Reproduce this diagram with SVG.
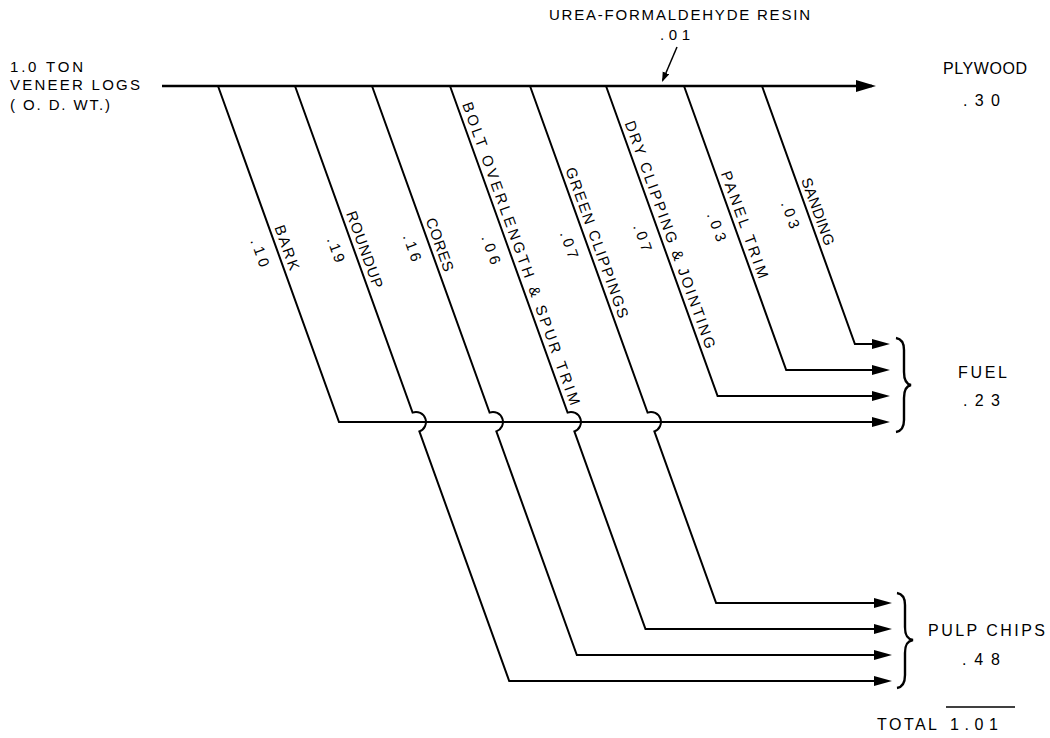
<svg xmlns="http://www.w3.org/2000/svg" width="1050" height="738" viewBox="0 0 1050 738">
<style>
.ln{fill:none;stroke:#000;stroke-width:2;stroke-linejoin:miter}
.main{stroke-width:2.6}
.br{fill:none;stroke:#000;stroke-width:2.4}
text{font-family:"Liberation Sans",Arial,sans-serif;font-size:15px;fill:#000}
.r{font-size:16px}
</style>
<defs>
<marker id="ah" markerUnits="userSpaceOnUse" markerWidth="20" markerHeight="12" refX="14" refY="5" orient="auto"><path d="M0,0 L18,5 L0,10 z" fill="#000"/></marker>
<marker id="ahm" markerUnits="userSpaceOnUse" markerWidth="22" markerHeight="14" refX="16" refY="6" orient="auto"><path d="M0,0 L20,6 L0,12 z" fill="#000"/></marker>
<marker id="ahs" markerUnits="userSpaceOnUse" markerWidth="12" markerHeight="8" refX="8" refY="3.5" orient="auto"><path d="M0,0 L10,3.5 L0,7 z" fill="#000"/></marker>
</defs>
<rect width="1050" height="738" fill="#fff"/>

<g id="connectors">
<path class="ln main" d="M162,86 L872,86" marker-end="url(#ahm)"/>
<path class="ln" style="stroke-width:1.5" d="M677,47 L662.8,80.2" marker-end="url(#ahs)"/>
<path class="ln" d="M218,86 L339,422 L886,422" marker-end="url(#ah)"/>
<path class="ln" d="M606,86 L717.6,396 L886,396" marker-end="url(#ah)"/>
<path class="ln" d="M684,86 L786.2,370 L886,370" marker-end="url(#ah)"/>
<path class="ln" d="M762,86 L854.9,344 L886,344" marker-end="url(#ah)"/>
<path class="ln" d="M295,86 L412.57,412.59 A10,10 0 0 1 419.35,431.41 L509.2,681 L888,681" marker-end="url(#ah)"/>
<path class="ln" d="M372,86 L489.57,412.59 A10,10 0 0 1 496.35,431.41 L576.84,655 L888,655" marker-end="url(#ah)"/>
<path class="ln" d="M450,86 L567.57,412.59 A10,10 0 0 1 574.35,431.41 L645.48,629 L888,629" marker-end="url(#ah)"/>
<path class="ln" d="M530,86 L647.57,412.59 A10,10 0 0 1 654.35,431.41 L716.12,603 L888,603" marker-end="url(#ah)"/>
</g>

<g id="input">
<text x="10" y="72" textLength="73" lengthAdjust="spacing">1.0 TON</text>
<text x="10" y="90" textLength="130" lengthAdjust="spacing">VENEER LOGS</text>
<text x="10" y="110" textLength="100" lengthAdjust="spacing">( O. D. WT.)</text>
</g>

<g id="resin">
<text x="549" y="20" textLength="261" lengthAdjust="spacing">UREA-FORMALDEHYDE RESIN</text>
<text x="660" y="40" textLength="30" lengthAdjust="spacing">.01</text>
</g>

<g id="plywood">
<text class="r" x="943" y="74" textLength="84" lengthAdjust="spacing">PLYWOOD</text>
<text class="r" x="963" y="106" textLength="37" lengthAdjust="spacing">.30</text>
</g>

<g id="fuel">
<path class="br" d="M896,338 C902,339 904,343 904,350 L904,372 C904,380 906,384 911,385 C906,386 904,390 904,398 L904,420 C904,427 902,431 896,432"/>
<text class="r" x="958" y="378" textLength="49" lengthAdjust="spacing">FUEL</text>
<text class="r" x="963" y="406" textLength="37" lengthAdjust="spacing">.23</text>
</g>

<g id="pulp-chips">
<path class="br" d="M897,593 C903,594 905,598 905,605 L905,627 C905,635 907,639 913,640 C907,641 905,645 905,653 L905,675 C905,682 903,687 897,688"/>
<text class="r" x="928" y="636" textLength="117" lengthAdjust="spacing">PULP CHIPS</text>
<text class="r" x="962" y="665" textLength="38" lengthAdjust="spacing">.48</text>
</g>

<g id="total">
<line x1="946" y1="707" x2="1015" y2="707" stroke="#000" stroke-width="1.3"/>
<text class="r" x="877" y="730" textLength="60" lengthAdjust="spacing">TOTAL</text>
<text class="r" x="950" y="730" textLength="48" lengthAdjust="spacing">1.01</text>
</g>

<g id="bark" transform="translate(277.4,251) rotate(70.2)">
<text x="0" y="-5" text-anchor="middle" textLength="47" lengthAdjust="spacing">BARK</text>
<text x="-4.3" y="22" text-anchor="middle" textLength="29" lengthAdjust="spacing">.10</text>
</g>
<g id="roundup" transform="translate(355.1,253) rotate(70.2)">
<text x="0" y="-5" text-anchor="middle" textLength="81" lengthAdjust="spacing">ROUNDUP</text>
<text x="-9.6" y="22" text-anchor="middle" textLength="26" lengthAdjust="spacing">.19</text>
</g>
<g id="cores" transform="translate(430.3,248) rotate(70.2)">
<text x="0" y="-5" text-anchor="middle" textLength="56" lengthAdjust="spacing">CORES</text>
<text x="-6.4" y="22" text-anchor="middle" textLength="28" lengthAdjust="spacing">.16</text>
</g>
<g id="bolt-overlength" transform="translate(511.6,257) rotate(70.2)">
<text x="0" y="-5" text-anchor="middle" textLength="321" lengthAdjust="spacing">BOLT OVERLENGTH &amp; SPUR TRIM</text>
<text x="-13.8" y="22" text-anchor="middle" textLength="30" lengthAdjust="spacing">.06</text>
</g>
<g id="green-clippings" transform="translate(587.6,246) rotate(70.2)">
<text x="0" y="-5" text-anchor="middle" textLength="159" lengthAdjust="spacing">GREEN CLIPPINGS</text>
<text x="-7.4" y="22" text-anchor="middle" textLength="28" lengthAdjust="spacing">.07</text>
</g>
<g id="dry-clipping" transform="translate(660.7,238) rotate(70.2)">
<text x="0" y="-5" text-anchor="middle" textLength="241" lengthAdjust="spacing">DRY CLIPPING &amp; JOINTING</text>
<text x="-6.4" y="22" text-anchor="middle" textLength="28" lengthAdjust="spacing">.07</text>
</g>
<g id="panel-trim" transform="translate(735.1,228) rotate(70.2)">
<text x="0" y="-5" text-anchor="middle" textLength="113" lengthAdjust="spacing">PANEL TRIM</text>
<text x="-7.4" y="22" text-anchor="middle" textLength="30" lengthAdjust="spacing">.03</text>
</g>
<g id="sanding" transform="translate(808.4,215) rotate(70.2)">
<text x="0" y="-5" text-anchor="middle" textLength="71" lengthAdjust="spacing">SANDING</text>
<text x="-6.4" y="22" text-anchor="middle" textLength="28" lengthAdjust="spacing">.03</text>
</g>
</svg>
